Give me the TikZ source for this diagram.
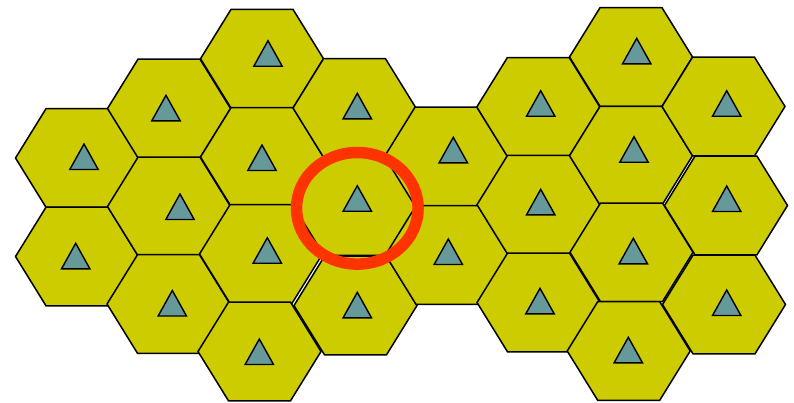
\documentclass[tikz,border=0pt]{standalone}
\definecolor{hexfill}{HTML}{CCCC00}
\definecolor{trifill}{HTML}{669999}
\definecolor{ringred}{HTML}{FF3300}
\begin{document}
\begin{tikzpicture}[x=1pt,y=-1pt,
  hexcell/.style={fill=hexfill,draw=black,line width=1.5pt,line join=miter},
  tri/.style={fill=trifill,draw=black,line width=1.4pt,line join=miter},
  ring/.style={draw=ringred,line width=11.5pt}]
\useasboundingbox (0,0) rectangle (794,402);
% hexagonal cells (centre x / centre y)
\foreach \cx/\cy in {77/158, 77/256.5,
    169/108.5, 169/206.5, 168.5/304,
    262/58.7, 262/157, 261/254, 259.5/351.5,
    354.5/108, 355/206, 355.5/305.5,
    446/156.5, 447/255,
    538.3/107, 538.5/204.7, 538.5/302.5,
    631/57, 631/155.7, 631.5/252.3, 628.7/351,
    723.5/106.5, 726/205.5, 724/304.5}
{
  \begin{scope}[shift={(\cx,\cy)}]
    \draw[hexcell] (-61.5,0) -- (-31,-49.3) -- (31,-49.3) -- (61.5,0)
      -- (31,49.3) -- (-31,49.3) -- cycle;
  \end{scope}
}
% base-station triangles (apex x / apex y)
\foreach \tx/\ty in {84/144, 75.7/243.3,
    166/95.3, 180/194, 172.3/290.5,
    268/40.7, 262/145, 267.3/237.7, 259.3/339,
    357.3/93.3, 357.3/185.7, 357.3/292.3,
    453.3/137.3, 448.3/239,
    540.7/90.7, 540.7/189.3, 540/288.3,
    636.7/38.3, 634/136.7, 633.3/238.3, 628.3/337.3,
    726.7/90.7, 726.7/186, 726.7/290}
{
  \begin{scope}[shift={(\tx,\ty)}]
    \draw[tri] (0,0) -- (14.2,25.5) -- (-14.2,25.5) -- cycle;
  \end{scope}
}
% highlighted cell
\coordinate (focus) at (357.3,208.3);
\draw[ring] (focus) ellipse [x radius=60.8, y radius=55.8];
\end{tikzpicture}
\end{document}
